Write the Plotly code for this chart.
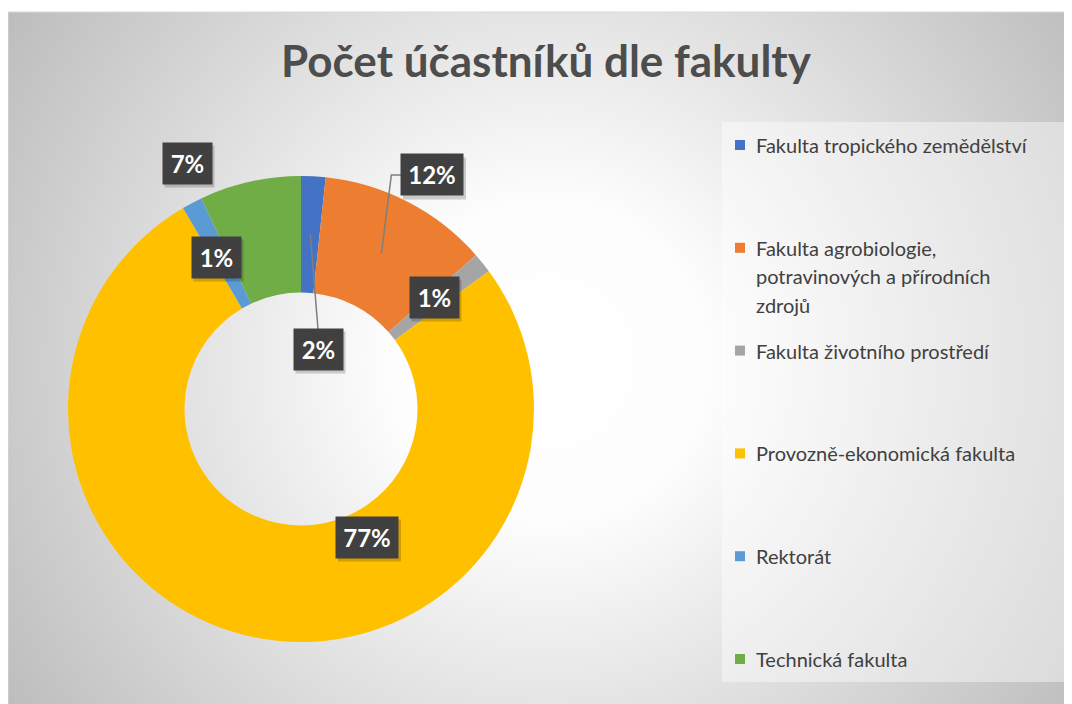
import base64
import math
import textwrap

import plotly.graph_objects as go

# data
categories = [
    "Fakulta tropického zemědělství",
    "Fakulta agrobiologie, potravinových a přírodních zdrojů",
    "Fakulta životního prostředí",
    "Provozně-ekonomická fakulta",
    "Rektorát",
    "Technická fakulta",
]
participants = [6, 42, 5, 272, 5, 25]
colors = ["#4472C4", "#ED7D31", "#A5A5A5", "#FFC000", "#5B9BD5", "#70AD47"]

# label box centres (px) as placed in the original chart
label_xy = [(318, 349), (432, 175), (434, 297), (367, 537), (216, 257), (187, 163)]
leaders = {0: "straight", 1: "elbow"}

W, H = 1072, 704
OFF = 8  # the page body adds an 8px margin around the plot
CX, CY, R, HOLE = 301, 409, 233, 0.5


def px(x):
    return (x - OFF) / W


def py(y):
    return 1 - (y - OFF) / H


total = sum(participants)
pcts = [round(v / total * 100) for v in participants]

# slice centroids (at mid radius), used for leader lines
anchors = []
cum = 0
rm = R * (1 + HOLE) / 2
for v in participants:
    mid = (cum + v / 2) / total
    cum += v
    th = 2 * math.pi * mid
    anchors.append((CX + rm * math.sin(th), CY - rm * math.cos(th)))

fig = go.Figure(
    go.Pie(
        labels=categories,
        values=participants,
        hole=HOLE,
        sort=False,
        direction="clockwise",
        rotation=0,
        marker=dict(colors=colors, line=dict(width=0)),
        textinfo="none",
        hoverinfo="label+value+percent",
        showlegend=False,
        domain=dict(x=[px(CX - R), px(CX + R)], y=[py(CY + R), py(CY - R)]),
    )
)

# radial gradient background of the chart area
svg = (
    '<svg xmlns="http://www.w3.org/2000/svg" width="1064" height="692">'
    '<defs><radialGradient id="g" gradientUnits="userSpaceOnUse" cx="540" cy="350" r="640">'
    '<stop offset="0" stop-color="#ffffff"/><stop offset="0.25" stop-color="#fdfdfd"/>'
    '<stop offset="1" stop-color="#bdbdbd"/></radialGradient></defs>'
    '<rect width="1064" height="692" fill="url(#g)"/></svg>'
)
src = "data:image/svg+xml;base64," + base64.b64encode(svg.encode()).decode()
fig.add_layout_image(
    source=src, xref="paper", yref="paper", x=px(8), y=py(12),
    sizex=1064 / W, sizey=692 / H,
    xanchor="left", yanchor="top", sizing="stretch", layer="below",
)
fig.add_shape(type="line", xref="paper", yref="paper", x0=px(8), x1=px(1072), y0=py(12), y1=py(12),
              line=dict(color="#d9d9d9", width=1))
fig.add_shape(type="line", xref="paper", yref="paper", x0=px(8), x1=px(8), y0=py(704), y1=py(12),
              line=dict(color="#d9d9d9", width=1))

# leader lines
for i, kind in leaders.items():
    (ax, ay), (lx, ly) = anchors[i], label_xy[i]
    if kind == "straight":
        path = f"M {px(ax)},{py(ay)} L {px(lx)},{py(ly - 20)}"
    else:
        w = 36 + 13 * (len(f"{pcts[i]}%") - 1)
        path = f"M {px(lx - w / 2)},{py(ly)} L {px(ax + 10)},{py(ly)} L {px(ax)},{py(ay)}"
    fig.add_shape(type="path", xref="paper", yref="paper", path=path,
                  line=dict(color="#7f7f7f", width=1.5))

# data labels (dark boxes with a soft shadow)
for (lx, ly), p in zip(label_xy, pcts):
    text = f"{p}%"
    w = 36 + 13 * (len(text) - 1)
    fig.add_shape(type="rect", xref="paper", yref="paper", layer="above",
                  x0=px(lx - w / 2 + 2), x1=px(lx + w / 2 + 3),
                  y0=py(ly + 20.5 + 4), y1=py(ly - 20.5 + 3),
                  fillcolor="rgba(0,0,0,0.18)", line=dict(width=0))
    fig.add_annotation(text=text, bgcolor="#404040", xref="paper", yref="paper",
                       x=px(lx), y=py(ly), showarrow=False, width=w, height=41, borderpad=0,
                       xanchor="center", yanchor="middle",
                       font=dict(family="Lato", size=24, color="white", weight="bold"))

# legend drawn by hand to match the spacing of the original
fig.add_shape(type="rect", xref="paper", yref="paper", x0=px(722), x1=px(1068),
              y0=py(682), y1=py(122), fillcolor="rgba(255,255,255,0.42)", line=dict(width=0))
y0, step, line_h = 145, 102.8, 28.5
for i, (name, c) in enumerate(zip(categories, colors)):
    yc = y0 + i * step
    fig.add_shape(type="rect", xref="paper", yref="paper", x0=px(735), x1=px(745),
                  y0=py(yc + 5), y1=py(yc - 5), fillcolor=c, line=dict(width=0))
    for j, part in enumerate(textwrap.wrap(name, 30)):
        fig.add_annotation(text=part, xref="paper", yref="paper", x=px(754), y=py(yc + j * line_h),
                           xanchor="left", yanchor="middle", showarrow=False,
                           font=dict(family="Lato", size=20, color="#404040"))

fig.update_layout(
    width=W,
    height=H,
    margin=dict(l=0, r=0, t=0, b=0),
    paper_bgcolor="white",
    title=dict(text="Počet účastníků dle fakulty", x=px(546), y=py(62),
               xanchor="center", yanchor="middle",
               font=dict(family="Lato", size=44, color="#4d4d4d", weight="bold")),
)

fig.write_html("out.html")
